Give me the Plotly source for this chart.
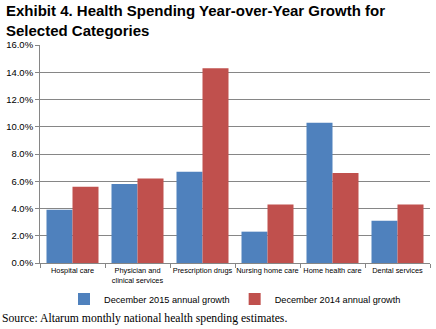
import plotly.graph_objects as go

categories = ["Hospital care", "Physician and<br>clinical services", "Prescription drugs",
              "Nursing home care", "Home health care", "Dental services"]
growth_2015 = [3.9, 5.8, 6.7, 2.3, 10.3, 3.1]
growth_2014 = [5.6, 6.2, 14.3, 4.3, 6.6, 4.3]
series_names = ["December 2015 annual growth", "December 2014 annual growth"]
y_ticks = [0, 2, 4, 6, 8, 10, 12, 14, 16]

fig = go.Figure()
fig.add_trace(go.Bar(x=categories, y=growth_2015, name=series_names[0],
                     marker=dict(color="#4F81BD", line=dict(width=0))))
fig.add_trace(go.Bar(x=categories, y=growth_2014, name=series_names[1],
                     marker=dict(color="#C0504D", line=dict(width=0))))

fig.update_layout(
    width=436, height=329,
    margin=dict(l=40, r=6, t=45, b=66),
    paper_bgcolor="white", plot_bgcolor="white",
    barmode="group", bargap=0.2, bargroupgap=0,
    font=dict(family="Liberation Sans, Arial, sans-serif", color="black"),
    showlegend=True,
    legend=dict(orientation="h", x=0.5, xanchor="center", y=-0.165, yanchor="middle",
                font=dict(size=9.2), itemwidth=30, traceorder="normal", tracegroupgap=0),
    xaxis=dict(showline=True, linecolor="#868686", linewidth=1,
               ticks="outside", tickson="boundaries", ticklen=4, tickcolor="#868686",
               tickfont=dict(size=7.4), tickangle=0, showgrid=False),
    yaxis=dict(range=[0, 16], tickvals=y_ticks, ticktext=[f"{v:.1f}%" for v in y_ticks],
               showline=True, linecolor="#868686", linewidth=1,
               ticks="outside", ticklen=4, tickcolor="#868686",
               gridcolor="#868686", gridwidth=1, tickfont=dict(size=9.5), zeroline=False),
    annotations=[
        dict(text="<b>Exhibit 4. Health Spending Year-over-Year Growth for<br>Selected Categories</b>",
             xref="paper", yref="paper", x=-36/390, xanchor="left",
             y=(263-0.5)/218, yanchor="top", align="left", showarrow=False,
             font=dict(size=15, color="black", family="Liberation Sans, Arial, sans-serif")),
        dict(text="Source: Altarum monthly national health spending estimates.",
             xref="paper", yref="paper", x=-40/390, xanchor="left",
             y=(263-318)/218, yanchor="middle", showarrow=False,
             font=dict(family="Liberation Serif, Times New Roman, serif", size=11.7)),
    ],
)

fig.write_html("out.html")
